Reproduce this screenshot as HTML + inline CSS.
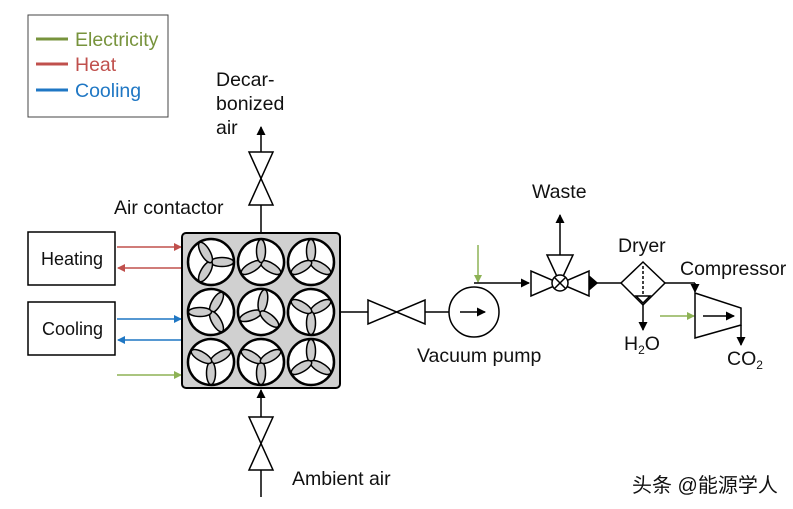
<!DOCTYPE html>
<html><head><style>body{margin:0;background:#fff}svg{display:block}text{font-family:"Liberation Sans","Noto Sans CJK SC",sans-serif;font-size:19.5px;fill:#111}</style></head><body>
<svg width="793" height="509" viewBox="0 0 793 509">
<defs>
<marker id="a" markerWidth="9" markerHeight="9" refX="8" refY="4.5" orient="auto" markerUnits="userSpaceOnUse"><path d="M0,0L9,4.5L0,9z" fill="#000"/></marker>
<marker id="r" markerWidth="8" markerHeight="8" refX="7" refY="4" orient="auto" markerUnits="userSpaceOnUse"><path d="M0,0L8,4L0,8z" fill="#c0504d"/></marker>
<marker id="b" markerWidth="8" markerHeight="8" refX="7" refY="4" orient="auto" markerUnits="userSpaceOnUse"><path d="M0,0L8,4L0,8z" fill="#1f77c4"/></marker>
<marker id="g" markerWidth="8" markerHeight="8" refX="7" refY="4" orient="auto" markerUnits="userSpaceOnUse"><path d="M0,0L8,4L0,8z" fill="#8db255"/></marker>
<g id="fan"><circle r="23" fill="#fff" stroke="#000" stroke-width="2.5"/>
<g fill="#ccc" stroke="#000" stroke-width="1.5"><ellipse cx="11" cy="0" rx="11.5" ry="4.5"/><ellipse cx="11" cy="0" rx="11.5" ry="4.5" transform="rotate(120)"/><ellipse cx="11" cy="0" rx="11.5" ry="4.5" transform="rotate(240)"/></g></g>
</defs>
<rect x="28" y="15" width="140" height="102" fill="#fff" stroke="#444"/>
<line x1="36" y1="39" x2="68" y2="39" stroke="#77933c" stroke-width="3"/><text x="75" y="46" style="fill:#77933c">Electricity</text>
<line x1="36" y1="64" x2="68" y2="64" stroke="#c0504d" stroke-width="3"/><text x="75" y="71" style="fill:#c0504d">Heat</text>
<line x1="36" y1="90" x2="68" y2="90" stroke="#1f77c4" stroke-width="3"/><text x="75" y="97" style="fill:#1f77c4">Cooling</text>
<rect x="28" y="232" width="87" height="53" fill="#fff" stroke="#000" stroke-width="1.5"/><text x="41" y="265" style="font-size:18px">Heating</text>
<rect x="28" y="302" width="87" height="53" fill="#fff" stroke="#000" stroke-width="1.5"/><text x="42" y="335" style="font-size:18px">Cooling</text>
<g stroke-width="1.5" fill="none">
<line x1="117" y1="247" x2="181" y2="247" stroke="#c0504d" marker-end="url(#r)"/>
<line x1="181" y1="268" x2="118" y2="268" stroke="#c0504d" marker-end="url(#r)"/>
<line x1="117" y1="319" x2="181" y2="319" stroke="#1f77c4" marker-end="url(#b)"/>
<line x1="181" y1="340" x2="118" y2="340" stroke="#1f77c4" marker-end="url(#b)"/>
<line x1="117" y1="375" x2="181" y2="375" stroke="#8db255" marker-end="url(#g)"/>
<line x1="478" y1="245" x2="478" y2="282" stroke="#8db255" marker-end="url(#g)"/>
<line x1="660" y1="316" x2="694" y2="316" stroke="#8db255" marker-end="url(#g)"/>
</g>
<rect x="182" y="233" width="158" height="155" rx="4" fill="#d0d0d0" stroke="#000" stroke-width="2"/>
<use href="#fan" x="211" y="262"/>
<use href="#fan" transform="translate(261,262) rotate(30)"/>
<use href="#fan" transform="translate(311,262) rotate(-90)"/>
<use href="#fan" transform="translate(211,312) rotate(-60)"/>
<use href="#fan" transform="translate(261,312) rotate(160)"/>
<use href="#fan" transform="translate(311,312) rotate(-30)"/>
<use href="#fan" transform="translate(211,362) rotate(-30)"/>
<use href="#fan" transform="translate(261,362) rotate(90)"/>
<use href="#fan" transform="translate(311,362) rotate(-90)"/>
<g stroke="#000" stroke-width="1.5" fill="#fff">
<line x1="261" y1="233" x2="261" y2="127" marker-end="url(#a)"/>
<path d="M249,152L273,152L249,205L273,205z"/>
<line x1="261" y1="497" x2="261" y2="390" marker-end="url(#a)"/>
<path d="M249,417L273,417L249,470L273,470z"/>
<line x1="340" y1="312" x2="450" y2="312"/>
<path d="M368,300L368,324L425,300L425,324z"/>
<circle cx="474" cy="312" r="25"/>
<line x1="460" y1="312" x2="485" y2="312" marker-end="url(#a)"/>
<line x1="474" y1="283" x2="529" y2="283" marker-end="url(#a)"/>
<path d="M531,271L531,296L589,271L589,296z"/>
<path d="M547,255L573,255L560,283z"/>
<circle cx="560" cy="283" r="8"/>
<line x1="554" y1="277" x2="566" y2="289"/><line x1="566" y1="277" x2="554" y2="289"/>
<line x1="560" y1="255" x2="560" y2="215" marker-end="url(#a)"/>
<line x1="589" y1="283" x2="621" y2="283"/>
<path d="M590,277L597,283L590,289z" fill="#000"/>
<path d="M643,262L665,283L643,305L621,283z"/>
<line x1="643" y1="266" x2="643" y2="295" stroke-dasharray="3,2"/>
<path d="M636,296L650,296L643,303z" fill="#fff"/>
<line x1="643" y1="305" x2="643" y2="330" marker-end="url(#a)"/>
<line x1="665" y1="283" x2="695" y2="283"/>
<line x1="695" y1="283" x2="695" y2="292" marker-end="url(#a)"/>
<path d="M695,293L741,308L741,325L695,338z"/>
<line x1="703" y1="316" x2="734" y2="316" marker-end="url(#a)"/>
<line x1="741" y1="325" x2="741" y2="345" marker-end="url(#a)"/>
</g>
<text x="216" y="86">Decar-</text><text x="216" y="110">bonized</text><text x="216" y="134">air</text>
<text x="114" y="214">Air contactor</text>
<text x="292" y="485">Ambient air</text>
<text x="532" y="198">Waste</text>
<text x="618" y="252">Dryer</text>
<text x="680" y="275">Compressor</text>
<text x="417" y="362">Vacuum pump</text>
<text x="624" y="350">H<tspan style="font-size:12px" dy="4">2</tspan><tspan dy="-4">O</tspan></text>
<text x="727" y="365">CO<tspan style="font-size:12px" dy="4">2</tspan></text>
<text x="632" y="492" style="font-size:20px">头条 @能源学人</text>
</svg></body></html>
